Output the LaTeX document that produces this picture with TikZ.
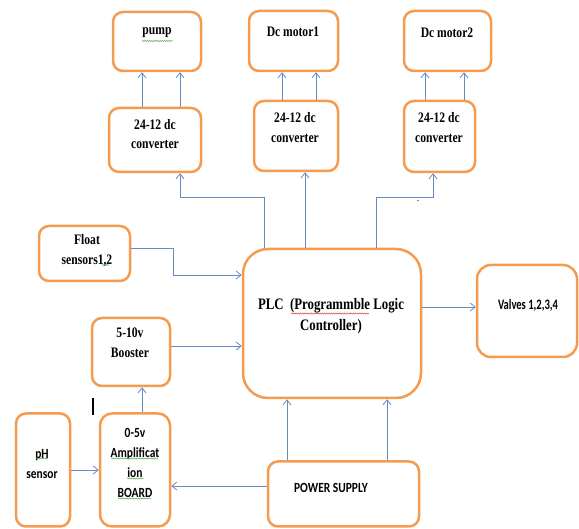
\documentclass[tikz,border=0pt]{standalone}
\usepackage{fontspec}
\setmainfont{Liberation Serif}[FakeStretch=0.8]
\newfontfamily\calib{Carlito}[FakeStretch=0.82]
\newfontfamily\calibn{Carlito}[FakeStretch=0.73]
\usetikzlibrary{arrows.meta,decorations.pathmorphing}
\definecolor{boxorange}{RGB}{245,155,80}
\definecolor{arrblue}{RGB}{100,140,190}
\definecolor{sqgreen}{RGB}{90,175,90}
\definecolor{sqred}{RGB}{225,70,70}
\tikzset{
  box/.style={draw=boxorange, line width=2.5pt, rounded corners=10pt, inner sep=0pt},
  arr/.style={draw=arrblue, line width=0.8pt, -{Straight Barb[length=5pt,width=8pt]}},
  serif/.style={font=\fontsize{14.5}{19.5}\selectfont\bfseries, align=center, inner sep=0pt},
  sans/.style={font=\fontsize{14}{20}\selectfont\calib\bfseries, align=center, inner sep=0pt},
  squig/.style={line width=0.5pt, decorate, decoration={snake, segment length=2.2pt, amplitude=0.6pt}}
}
\begin{document}
\begin{tikzpicture}[x=1pt,y=-1pt]
\useasboundingbox (0,0) rectangle (579,529);
% boxes
\node[box, minimum width=88pt, minimum height=59pt] (pump) at (157,41.5) {};
\node[box, minimum width=92pt, minimum height=64pt] (conv1) at (155,140) {};
\node[box, minimum width=89pt, minimum height=60pt] (motor1) at (293.5,41) {};
\node[box, minimum width=84pt, minimum height=70pt] (conv2) at (296,136) {};
\node[box, minimum width=87pt, minimum height=60pt] (motor2) at (447.5,41) {};
\node[box, minimum width=71pt, minimum height=71pt] (conv3) at (439.5,136.5) {};
\node[box, minimum width=91pt, minimum height=55pt] (float) at (84.5,253.5) {};
\node[box, minimum width=178pt, minimum height=149pt, rounded corners=25pt] (plc) at (332,323.5) {};
\node[box, minimum width=100pt, minimum height=92pt, rounded corners=14pt] (valves) at (527,311) {};
\node[box, minimum width=78pt, minimum height=68pt] (booster) at (131,352) {};
\node[box, minimum width=54pt, minimum height=113pt] (ph) at (43,470) {};
\node[box, minimum width=70pt, minimum height=113pt, rounded corners=12pt] (ampl) at (135,470) {};
\node[box, minimum width=151pt, minimum height=65pt] (power) at (343.5,494) {};
% texts
\node[serif] (tpump) at (157,33) {pump};
\node[serif] (tconv1) at (155,134) {24-12 dc\\converter};
\node[serif] (tm1) at (293,32) {Dc motor1};
\node[serif] (tconv2) at (295,127.5) {24-12 dc\\converter};
\node[serif] (tm2) at (447,33) {Dc motor2};
\node[serif] (tconv3) at (439,127.5) {24-12 dc\\converter};
\node[serif] (tfloat) at (87,250.5) {Float\\sensors1,2};
\node[serif] (tboost) at (130,343) {5-10v\\Booster};
\node[serif, font=\fontsize{16}{21}\selectfont\bfseries] (tplc) at (331,316.5) {PLC\ \ (Programmble Logic\\Controller)};
\node[sans, font=\fontsize{14.5}{20}\selectfont\calibn\bfseries] (tvalves) at (528,305.5) {Valves 1,2,3,4};
\node[sans] (tph) at (42,464) {pH\\sensor};
\node[sans] (tampl) at (135,463) {0-5v\\Amplificat\\ion\\BOARD};
\node[sans] (tpower) at (331,488) {POWER SUPPLY};
% squiggles
\draw[squig, sqgreen] (142,41) -- (173,41);
\draw[squig, sqgreen] (102,265) -- (109,265);
\draw[squig, sqgreen] (36,458.5) -- (48,458.5);
\draw[squig, sqgreen] (111,458.5) -- (158,458.5);
\draw[squig, sqgreen] (127,478.5) -- (143,478.5);
\draw[squig, sqgreen] (118,498.5) -- (151,498.5);
\draw[squig, sqred] (291,313.5) -- (369,313.5);
% stray marks
\draw[line width=1.2pt] (93,398) -- (93,415);
\fill[violet!70] (418,200.5) circle (0.8pt);
% connectors
\draw[arr] (142,0 |- conv1.north) -- (142,0 |- pump.south);
\draw[arr] (180,0 |- conv1.north) -- (180,0 |- pump.south);
\draw[arr] (282,0 |- conv2.north) -- (282,0 |- motor1.south);
\draw[arr] (316,0 |- conv2.north) -- (316,0 |- motor1.south);
\draw[arr] (425,0 |- conv3.north) -- (425,0 |- motor2.south);
\draw[arr] (464,0 |- conv3.north) -- (464,0 |- motor2.south);
\draw[arr] (264,0 |- plc.north) |- (180,197) -- (180,0 |- conv1.south);
\draw[arr] (305,0 |- plc.north) -- (305,0 |- conv2.south);
\draw[arr] (376,0 |- plc.north) |- (433,197) -- (433,0 |- conv3.south);
\draw[arr] (float.east |- 0,248) -| (173,275) -- (plc.west |- 0,275);
\draw[arr] (booster.east |- 0,346) -- (plc.west |- 0,346);
\draw[arr] (plc.east |- 0,307) -- (valves.west |- 0,307);
\draw[arr] (142,0 |- ampl.north) -- (142,0 |- booster.south);
\draw[arr] (ph.east |- 0,470) -- (ampl.west |- 0,470);
\draw[arr] (power.west |- 0,486) -- (ampl.east |- 0,486);
\draw[arr] (287,0 |- power.north) -- (287,0 |- plc.south);
\draw[arr] (387,0 |- power.north) -- (387,0 |- plc.south);
\end{tikzpicture}
\end{document}
